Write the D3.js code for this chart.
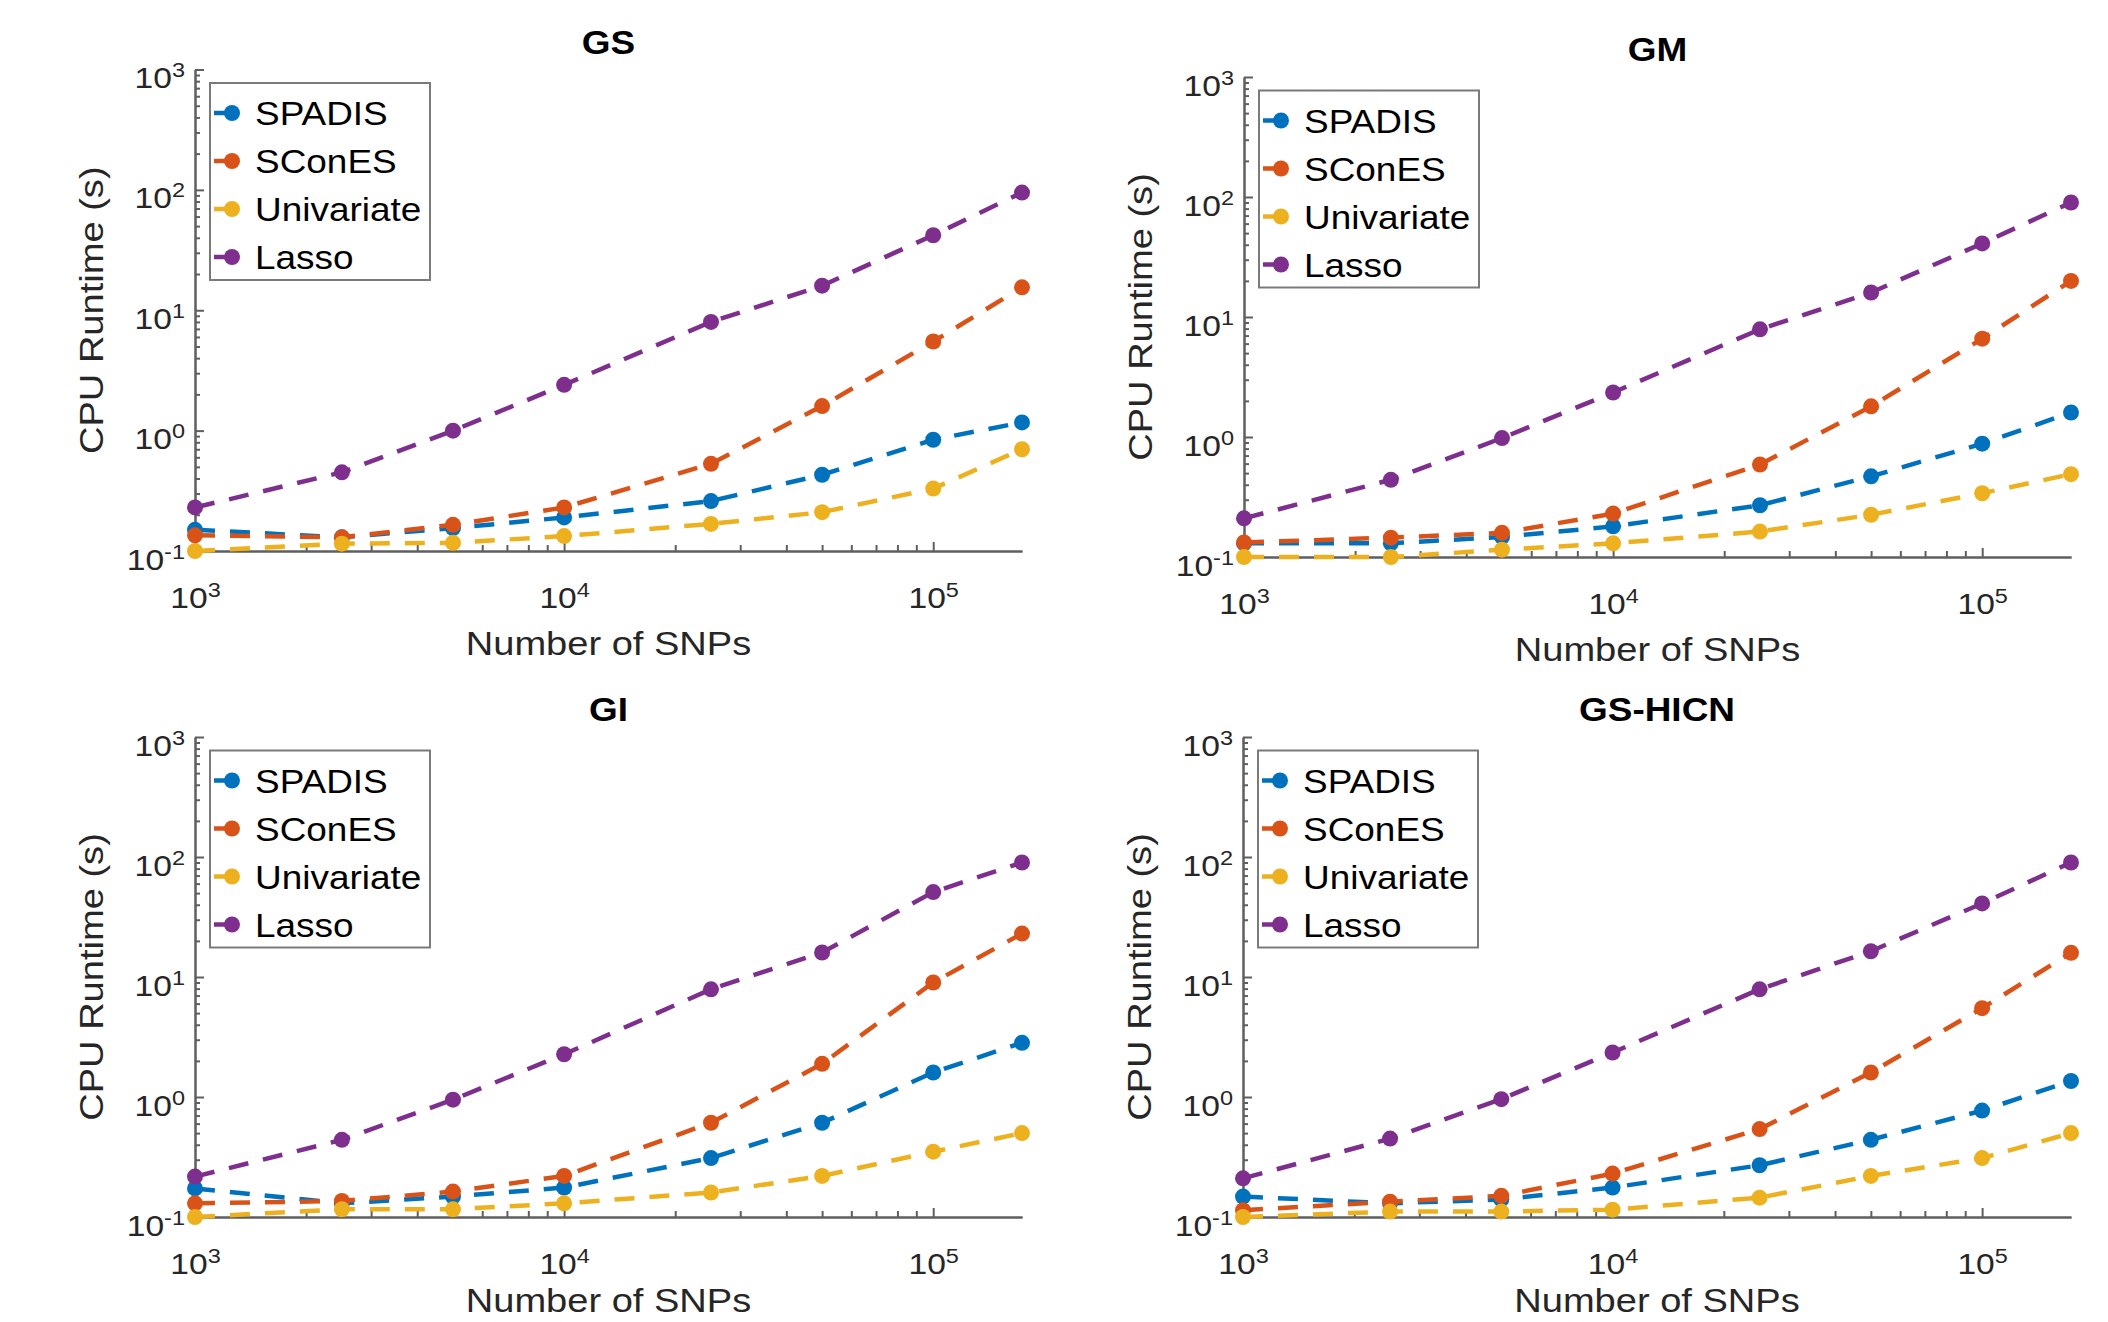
<!DOCTYPE html>
<html>
<head>
<meta charset="utf-8">
<script src="https://cdn.jsdelivr.net/npm/d3@7"></script>
<style>
    body { margin: 0; background: #fff; }
    svg { display: block; }
</style>
</head>
<body>
<svg id="chart"></svg>
<script>

// x positions (number of SNPs) shared by every panel
var snps = [1000, 2500, 5000, 10000, 25000, 50000, 100000, 174000];
var methodNames = ["SPADIS", "SConES", "Univariate", "Lasso"];
var methodColors = ["#0072BD", "#D95319", "#EDB120", "#7E2F8E"];

// tick labels are drawn as 10 with a superscript exponent
var yMajorTicks = [0.1, 1, 10, 100, 1000];
var yTickExponents = ["-1", "0", "1", "2", "3"];
var xMajorTicks = [1e3, 1e4, 1e5];
var xTickExponents = ["3", "4", "5"];

// CPU runtime (s)
var gsSpadis = [0.15, 0.13, 0.155, 0.19, 0.26, 0.43, 0.84, 1.17];
var gsScones = [0.135, 0.13, 0.165, 0.23, 0.53, 1.6, 5.5, 15.5];
var gsUnivariate = [0.1, 0.115, 0.117, 0.133, 0.168, 0.21, 0.33, 0.7];
var gsLasso = [0.23, 0.45, 1.0, 2.4, 8, 16, 42, 95];

var gmSpadis = [0.13, 0.13, 0.147, 0.18, 0.27, 0.47, 0.88, 1.6];
var gmScones = [0.132, 0.145, 0.159, 0.23, 0.59, 1.8, 6.6, 20];
var gmUnivariate = [0.1, 0.1, 0.115, 0.13, 0.163, 0.225, 0.34, 0.49];
var gmLasso = [0.21, 0.44, 0.98, 2.35, 7.9, 16, 41, 90];

var giSpadis = [0.173, 0.13, 0.148, 0.176, 0.31, 0.61, 1.6, 2.83];
var giScones = [0.13, 0.136, 0.163, 0.22, 0.61, 1.89, 9.0, 23];
var giUnivariate = [0.1, 0.116, 0.116, 0.13, 0.16, 0.22, 0.35, 0.5];
var giLasso = [0.217, 0.44, 0.95, 2.27, 7.9, 16, 51, 90];

var hicnSpadis = [0.148, 0.13, 0.14, 0.176, 0.27, 0.44, 0.77, 1.36];
var hicnScones = [0.114, 0.134, 0.15, 0.23, 0.54, 1.6, 5.5, 15.9];
var hicnUnivariate = [0.1, 0.111, 0.111, 0.115, 0.145, 0.22, 0.31, 0.5];
var hicnLasso = [0.21, 0.45, 0.96, 2.35, 7.9, 16.4, 41, 90];

var titles = ["GS", "GM", "GI", "GS-HICN"];
var panelSeries = [
    [gsSpadis, gsScones, gsUnivariate, gsLasso],
    [gmSpadis, gmScones, gmUnivariate, gmLasso],
    [giSpadis, giScones, giUnivariate, giLasso],
    [hicnSpadis, hicnScones, hicnUnivariate, hicnLasso]
];

// axes boxes of the 2x2 grid (left, right, top = 10^3, bottom = 10^-1)
var boxes = [
    { left: 195, right: 1022, top: 69.5, bottom: 551 },
    { left: 1244, right: 2071, top: 77, bottom: 557 },
    { left: 195, right: 1022, top: 737, bottom: 1217 },
    { left: 1243, right: 2071, top: 737, bottom: 1217 }
];

var FONT = "'Liberation Sans', Arial, Helvetica, sans-serif";
var SX = 1.12;               // text in the original is a bit wider than Arial
var axisColor = "#5f5f5f";
var textColor = "#262626";
var pageHeight = 1322;

var svg = d3.select("#chart")
    .attr("width", 2108)
    .attr("height", pageHeight);

function isDecade(v) {
    var l = Math.log10(v);
    return Math.abs(l - Math.round(l)) < 1e-9;
}

// puts "10" plus a superscript exponent into a tick text
function powerLabel(text, exponent) {
    text.text(null);
    text.append("tspan").text("10");
    text.append("tspan")
        .attr("font-size", 21)
        .attr("dy", -11)
        .text(exponent);
}

function drawPanel(box, title, series) {
    var x = d3.scaleLog()
        .domain([snps[0], snps[snps.length - 1]])
        .range([box.left, box.right]);
    var y = d3.scaleLog()
        .domain([yMajorTicks[0], yMajorTicks[yMajorTicks.length - 1]])
        .range([box.bottom, box.top]);

    var g = svg.append("g");

    // minor ticks (inward)
    var yMinor = y.ticks().filter(function (v) { return !isDecade(v); });
    var xMinor = x.ticks().filter(function (v) { return !isDecade(v); });

    g.append("g")
        .attr("transform", "translate(" + box.left + ",0)")
        .call(d3.axisLeft(y).tickValues(yMinor).tickSize(-5).tickSizeOuter(0).tickFormat(""));
    g.append("g")
        .attr("transform", "translate(0," + box.bottom + ")")
        .call(d3.axisBottom(x).tickValues(xMinor).tickSize(-6).tickSizeOuter(0).tickFormat(""));

    // major ticks with labels
    var yAxis = g.append("g")
        .attr("transform", "translate(" + box.left + ",0)")
        .call(d3.axisLeft(y).tickValues(yMajorTicks).tickSize(-9).tickSizeOuter(0).tickFormat(""));
    yAxis.selectAll(".tick text")
        .attr("x", 0).attr("dy", null)
        .attr("transform", "translate(-10,18) scale(" + SX + ",1)")
        .attr("text-anchor", "end")
        .each(function (d, i) { powerLabel(d3.select(this), yTickExponents[i]); });

    var xAxis = g.append("g")
        .attr("transform", "translate(0," + box.bottom + ")")
        .call(d3.axisBottom(x).tickValues(xMajorTicks).tickSize(-9).tickSizeOuter(0).tickFormat(""));
    xAxis.selectAll(".tick text")
        .attr("y", 0).attr("dy", null)
        .attr("transform", "translate(0,57) scale(" + SX + ",1)")
        .attr("text-anchor", "middle")
        .each(function (d, i) { powerLabel(d3.select(this), xTickExponents[i]); });

    g.selectAll(".domain, .tick line")
        .attr("stroke", axisColor)
        .attr("stroke-width", 2);
    g.selectAll(".tick text")
        .attr("fill", textColor)
        .attr("font-family", FONT)
        .attr("font-size", 30);

    // lines and markers, drawn in legend order
    var line = d3.line()
        .x(function (d, i) { return x(snps[i]); })
        .y(function (d) { return y(d); });

    series.forEach(function (values, k) {
        g.append("path")
            .datum(values)
            .attr("d", line)
            .attr("fill", "none")
            .attr("stroke", methodColors[k])
            .attr("stroke-width", 4.5)
            .attr("stroke-dasharray", "20,15");
        g.selectAll(".pt" + k)
            .data(values)
            .enter()
            .append("circle")
            .attr("cx", function (d, i) { return x(snps[i]); })
            .attr("cy", function (d) { return y(d); })
            .attr("r", 8)
            .attr("fill", methodColors[k]);
    });

    // title
    svg.append("text")
        .text(title)
        .attr("transform", "translate(" + ((box.left + box.right) / 2) + "," + (box.top - 16) + ") scale(" + SX + ",1)")
        .attr("text-anchor", "middle")
        .attr("font-family", FONT)
        .attr("font-weight", "bold")
        .attr("font-size", 33)
        .attr("fill", "#000");

    // axis labels (kept inside the page at the bottom edge)
    var labelY = Math.min(box.bottom + 104, pageHeight - 10);
    svg.append("text")
        .text("Number of SNPs")
        .attr("transform", "translate(" + ((box.left + box.right) / 2) + "," + labelY + ") scale(" + SX + ",1)")
        .attr("text-anchor", "middle")
        .attr("font-family", FONT)
        .attr("font-size", 34)
        .attr("fill", textColor);

    svg.append("text")
        .text("CPU Runtime (s)")
        .attr("transform", "translate(" + (box.left - 92) + "," + ((box.top + box.bottom) / 2) + ") rotate(-90) scale(" + SX + ",1)")
        .attr("text-anchor", "middle")
        .attr("font-family", FONT)
        .attr("font-size", 34)
        .attr("fill", textColor);

    // legend
    var lx = box.left + 15;
    var ly = box.top + 13.5;
    var legend = svg.append("g").attr("transform", "translate(" + lx + "," + ly + ")");
    legend.append("rect")
        .attr("width", 220)
        .attr("height", 197)
        .attr("fill", "#fff")
        .attr("stroke", "#7a7a7a")
        .attr("stroke-width", 2);

    var items = legend.selectAll(".item")
        .data(methodNames)
        .enter()
        .append("g")
        .attr("transform", function (d, i) { return "translate(0," + (30 + i * 48) + ")"; });
    items.append("line")
        .attr("x1", 4).attr("x2", 22)
        .attr("y1", 0).attr("y2", 0)
        .attr("stroke", function (d, i) { return methodColors[i]; })
        .attr("stroke-width", 4.5);
    items.append("circle")
        .attr("cx", 22).attr("cy", 0).attr("r", 8)
        .attr("fill", function (d, i) { return methodColors[i]; });
    items.append("text")
        .text(function (d) { return d; })
        .attr("transform", "translate(45,12) scale(" + SX + ",1)")
        .attr("font-family", FONT)
        .attr("font-size", 33)
        .attr("fill", "#000");
}

boxes.forEach(function (box, i) {
    drawPanel(box, titles[i], panelSeries[i]);
});

</script>
</body>
</html>
